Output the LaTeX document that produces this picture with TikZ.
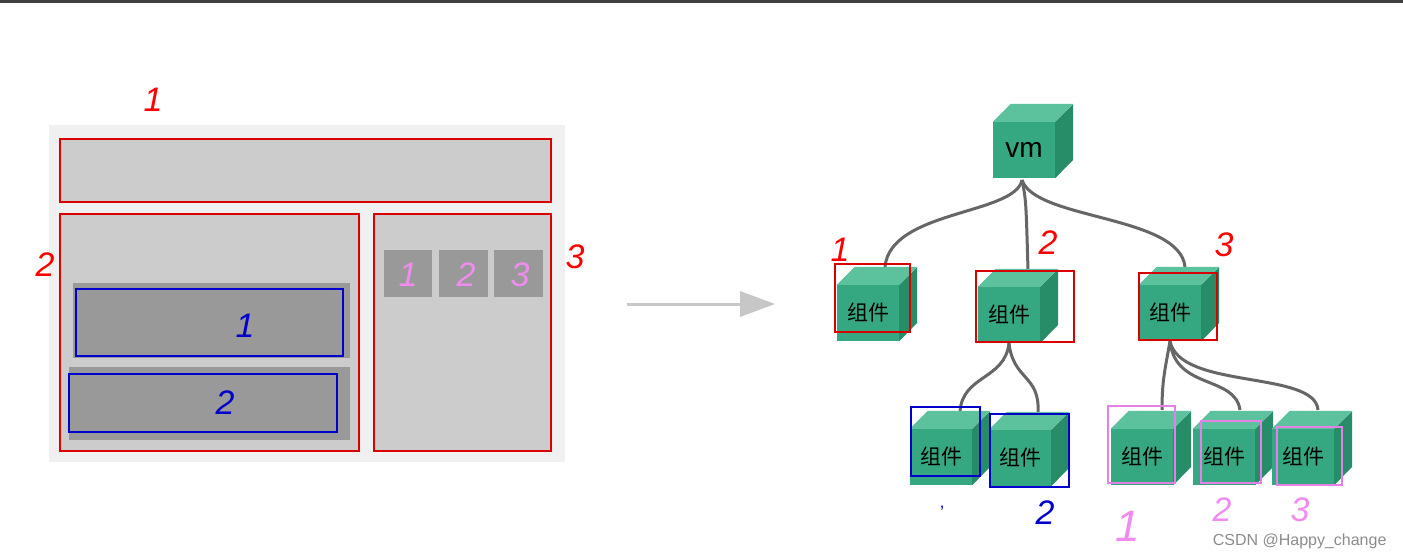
\documentclass[tikz,border=0pt]{standalone}
\usepackage{fontspec}
\setmainfont{Liberation Sans}
\newfontfamily\cjk{Noto Sans CJK SC}
\begin{document}
\begin{tikzpicture}[x=1pt,y=-1pt,
  face/.style={fill=cfront,draw=none,minimum width=62pt,minimum height=56pt,inner sep=0pt,font=\cjk\fontsize{21}{21}\selectfont},
  red box/.style={draw=red!85!black,line width=1.3pt},
  blue box/.style={draw=blue!80!black,line width=1.3pt},
  pink box/.style={draw=violet!40!magenta!50,line width=1.5pt},
  link/.style={draw=black!60,line width=3pt},
  hand/.style={font=\fontsize{34}{34}\selectfont\itshape}]
\definecolor{cfront}{HTML}{35A882}
\definecolor{ctop}{HTML}{5CC19D}
\definecolor{cside}{HTML}{278C68}
\definecolor{pinkh}{HTML}{F08CF0}
\newcommand{\mycube}[4]{%
  \node[face] (#1) at (#2,#3) {#4};
  \fill[ctop] (#1.north west) -- ++(18,-18) -- ++(62,0) -- (#1.north east) -- cycle;
  \fill[cside] (#1.north east) -- ++(18,-18) -- ++(0,56) -- (#1.south east) -- cycle;}
\useasboundingbox (0,0) rectangle (1403,556);
\fill[white] (0,0) rectangle (1403,556);
\fill[black!75] (0,0) rectangle (1403,3);
% left panel
\fill[black!6] (49,125) rectangle (565,462);
\draw[red box,fill=black!20] (60,139) rectangle (551,202);
\draw[red box,fill=black!20] (60,214) rectangle (359,451);
\draw[red box,fill=black!20] (374,214) rectangle (551,451);
\fill[black!40] (73,283) rectangle (350,358);
\draw[blue box,fill=black!40] (76,289) rectangle (343,356);
\fill[black!40] (69,367) rectangle (350,440);
\draw[blue box,fill=black!40] (69,374) rectangle (337,432);
\fill[black!40] (384,250) rectangle (432,297);
\fill[black!40] (439,250) rectangle (488,297);
\fill[black!40] (494,250) rectangle (543,297);
\node[hand,text=pinkh] (p1) at (408,275) {1};
\node[hand,text=pinkh] (p2) at (466,275) {2};
\node[hand,text=pinkh] (p3) at (520,275) {3};
\node[hand,text=red] (h1) at (153,100) {1};
\node[hand,text=red] (h2) at (45,265) {2};
\node[hand,text=red] (h3) at (575,257) {3};
\node[hand,text=blue!80!black] (b1) at (245,326) {1};
\node[hand,text=blue!80!black] (b2) at (225,403) {2};
% arrow
\coordinate (a1) at (627,304);
\coordinate (a2) at (775,304);
\draw[black!22,line width=3pt] (a1) -- (740,304);
\fill[black!22] (a2) -- (740,291) -- (740,317) -- cycle;
% links
\draw[link] (1022,180) .. controls (1015,215) and (890,210) .. (885,267);
\draw[link] (1022,180) .. controls (1026,200) .. (1028,270);
\draw[link] (1022,180) .. controls (1035,220) and (1180,215) .. (1185,267);
% cubes
\mycube{vm}{1024}{150}{\fontsize{28}{28}\selectfont\rmfamily vm}
\mycube{c1}{868}{313}{组件}
\mycube{c2}{1009}{315}{组件}
\mycube{c3}{1170}{313}{组件}
\draw[link] (c2.south) .. controls (1005,380) and (962,375) .. (960,412);
\draw[link] (c2.south) .. controls (1013,380) and (1040,375) .. (1038,412);
\draw[link] (c3.south) .. controls (1165,370) and (1162,380) .. (1162,410);
\draw[link] (c3.south) .. controls (1175,390) and (1235,375) .. (1240,410);
\draw[link] (c3.south) .. controls (1180,390) and (1315,370) .. (1318,410);
\mycube{g1}{941}{457}{组件}
\mycube{g2}{1020}{458}{组件}
\mycube{g3}{1142}{457}{组件}
\mycube{g4}{1224}{457}{组件}
\mycube{g5}{1303}{457}{组件}
% highlight boxes
\draw[red box] (835,264) rectangle (910,332);
\draw[red box] (976,271) rectangle (1074,342);
\draw[red box] (1139,273) rectangle (1217,340);
\draw[blue box] (911,407) rectangle (980,476);
\draw[blue box] (990,414) rectangle (1069,487);
\draw[pink box] (1108,406) rectangle (1175,483);
\draw[pink box] (1201,421) rectangle (1261,483);
\draw[pink box] (1277,427) rectangle (1342,485);
\node[hand,text=red] (r1) at (840,250) {1};
\node[hand,text=red] (r2) at (1048,243) {2};
\node[hand,text=red] (r3) at (1224,245) {3};
\node[hand,text=blue!80!black,font=\fontsize{18}{18}\selectfont] (s1) at (942,512) {'};
\node[hand,text=blue!80!black] (s2) at (1045,513) {2};
\node[hand,text=pinkh,font=\fontsize{44}{44}\selectfont\itshape] (t1) at (1128,526) {1};
\node[hand,text=pinkh] (t2) at (1222,510) {2};
\node[hand,text=pinkh] (t3) at (1300,510) {3};
\node[text=black!45,font=\fontsize{16}{16}\selectfont,anchor=east] (wm) at (1390,541) {CSDN @Happy\_change};
\end{tikzpicture}
\end{document}
